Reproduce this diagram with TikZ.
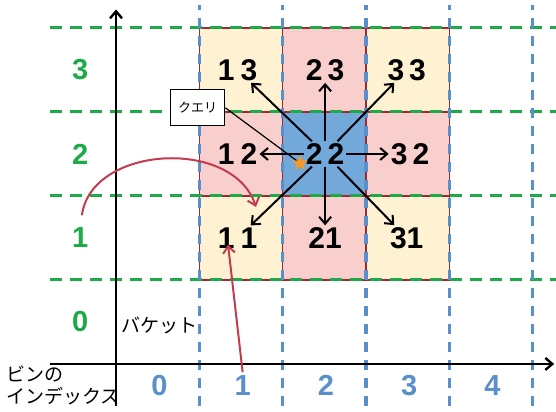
\documentclass[tikz,border=0pt]{standalone}
\usepackage{fontspec}
\setmainfont{Liberation Sans}
\newfontfamily\jp{Noto Sans CJK JP}
\usepackage{tikz}
\usetikzlibrary{shapes.geometric, arrows.meta, positioning}

\definecolor{gridgreen}{HTML}{1FAA4A}
\definecolor{gridblue}{HTML}{5B8FC9}
\definecolor{cellyellow}{HTML}{FFF2D3}
\definecolor{cellpink}{HTML}{F9CFCD}
\definecolor{cellblue}{HTML}{72A8DA}
\definecolor{cellborder}{HTML}{9C2B3A}
\definecolor{linkred}{HTML}{C23B4E}
\definecolor{starorange}{HTML}{F39A2E}

\begin{document}
\begin{tikzpicture}[x=83.3pt, y=84pt,
    cell/.style={draw=cellborder, line width=1.4pt},
    gdash/.style={gridgreen, line width=3pt, dash pattern=on 12pt off 8pt},
    bdash/.style={gridblue, line width=3.2pt, dash pattern=on 10pt off 8pt},
    axis/.style={black, line width=2.4pt},
    num/.style={font=\fontsize{30}{30}\selectfont\bfseries, inner sep=2pt},
    rowlab/.style={font=\fontsize{29}{29}\selectfont\bfseries, text=gridgreen},
    collab/.style={font=\fontsize{29}{29}\selectfont\bfseries, text=gridblue},
    link/.style={line width=2pt, -{Straight Barb[length=7pt, width=12pt]}},
    redlink/.style={linkred, line width=2pt, -{Straight Barb[length=7pt, width=12pt]}},
    jptext/.style={font=\jp\fontsize{19}{22}\selectfont}
]
    \useasboundingbox (-1.393,-0.571) rectangle (5.282,4.333);

    % --- バケット (セル) ---
    \foreach \i/\j/\c in {1/3/cellyellow, 2/3/cellpink, 3/3/cellyellow,
                          1/2/cellpink, 2/2/cellblue, 3/2/cellpink,
                          1/1/cellyellow, 2/1/cellpink, 3/1/cellyellow}
        \filldraw[cell, fill=\c] (\i,\j) rectangle ++(1,1);

    % 補助破線
    \foreach \y in {1,...,4} \draw[gdash] (-0.79,\y) -- (5.28,\y);
    \foreach \x in {1,...,5} \draw[bdash] (\x,-0.5) -- (\x,4.27);

    % 座標軸
    \draw[axis, -{Straight Barb[length=7pt, width=12pt]}] (-0.79,0) -- (5.26,0);
    \draw[axis, -{Straight Barb[length=7pt, width=12pt]}] (0,-0.5) -- (0,4.22);

    % 軸ラベル
    \foreach \k in {0,...,3} \node[rowlab] (row\k) at (-0.43,\k+0.5) {\k};
    \foreach \k in {0,...,4} \node[collab] (col\k) at (\k+0.52,-0.26) {\k};
    \node[jptext] (bucket) at (0.52,0.46) {バケット};
    \node[jptext, anchor=west, align=left] (binidx) at (-1.36,-0.26) {ビンの\\インデックス};

    % セル番号
    \node[num] (c13) at (1.46,3.5) {1\hspace{6pt}3};
    \node[num] (c23) at (2.51,3.5) {2\hspace{5pt}3};
    \node[num] (c33) at (3.49,3.5) {3\hspace{5pt}3};
    \node[num] (c12) at (1.46,2.5) {1\hspace{6pt}2};
    \node[num] (c22) at (2.51,2.5) {2\hspace{5pt}2};
    \node[num] (c32) at (3.53,2.5) {3\hspace{5pt}2};
    \node[num] (c11) at (1.46,1.5) {1\hspace{6pt}1};
    \node[num] (c21) at (2.51,1.5) {21};
    \node[num] (c31) at (3.49,1.5) {31};

    % 隣接バケットへの矢印
    \foreach \n in {13,23,33,12,32,11,21,31} \draw[link] (c22) -- (c\n);

    % クエリ
    \node[star, star points=5, star point ratio=2.3, fill=starorange,
          minimum size=16pt, inner sep=0pt] (qstar) at (2.21,2.39) {};
    \node[draw, fill=white, line width=1.2pt, minimum width=54pt, minimum height=36pt,
          font=\jp\fontsize{13}{14}\selectfont] (query) at (0.98,3.05) {クエリ};
    \draw[line width=1.2pt] (query.east) -- (qstar.center);
    \node[star, star points=5, star point ratio=2.3, fill=starorange,
          minimum size=16pt, inner sep=0pt] at (qstar) {};

    % 赤い矢印
    \coordinate (arcstart) at (-0.41,1.77);
    \coordinate (arcend) at (1.68,1.87);
    \coordinate (tip11) at (1.345,1.42);
    \draw[redlink] (arcstart) .. controls (-0.3,2.6) and (1.4,2.7) .. (arcend);
    \draw[redlink] (col1.north) -- (tip11);

\end{tikzpicture}
\end{document}
